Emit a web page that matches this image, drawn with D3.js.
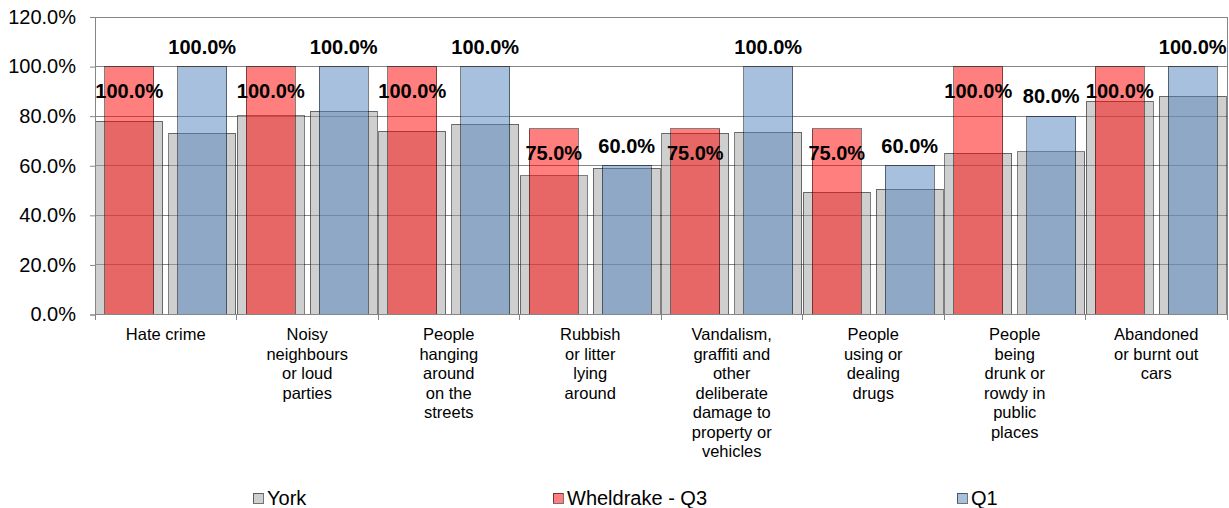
<!DOCTYPE html>
<html>
<head>
<meta charset="utf-8">
<script src="https://cdn.jsdelivr.net/npm/d3@7"></script>
<style>
  body { margin: 0; background: #fff; }
  svg { display: block; font-family: "Liberation Sans", Arial, sans-serif; }
</style>
</head>
<body>
<svg id="chart" width="1229" height="508"></svg>
<script>
// Survey categories and the wrapped lines used for their axis labels
const categories = [
  "Hate crime",
  "Noisy neighbours or loud parties",
  "People hanging around on the streets",
  "Rubbish or litter lying around",
  "Vandalism, graffiti and other deliberate damage to property or vehicles",
  "People using or dealing drugs",
  "People being drunk or rowdy in public places",
  "Abandoned or burnt out cars"
];
const categoryLines = [
  ["Hate crime"],
  ["Noisy", "neighbours", "or loud", "parties"],
  ["People", "hanging", "around", "on the", "streets"],
  ["Rubbish", "or litter", "lying", "around"],
  ["Vandalism,", "graffiti and", "other", "deliberate", "damage to", "property or", "vehicles"],
  ["People", "using or", "dealing", "drugs"],
  ["People", "being", "drunk or", "rowdy in", "public", "places"],
  ["Abandoned", "or burnt out", "cars"]
];

// Quarters shown side by side within each category
const quarters = ["Q3", "Q1"];

// York-wide comparison values, one per quarter slot
const yorkQ3 = [0.780, 0.802, 0.740, 0.560, 0.732, 0.494, 0.651, 0.860];
const yorkQ1 = [0.732, 0.820, 0.767, 0.590, 0.736, 0.505, 0.657, 0.881];

// Wheldrake ward results
const wheldrakeQ3 = [1.00, 1.00, 1.00, 0.75, 0.75, 0.75, 1.00, 1.00];
const wheldrakeQ1 = [1.00, 1.00, 1.00, 0.60, 1.00, 0.60, 0.80, 1.00];

// Value axis ticks
const yTicks = [0, 0.2, 0.4, 0.6, 0.8, 1.0, 1.2];

// Legend entries
const legendLabels = ["York", "Wheldrake - Q3", "Q1"];

const svg = d3.select("#chart");
const W = 1229, H = 508;
const plot = { left: 95, right: 1227, top: 17, bottom: 314.5 };

svg.append("rect").attr("width", W).attr("height", H).attr("fill", "#fff");

const x = d3.scaleBand().domain(categories).range([plot.left, plot.right]).padding(0);
const sub = d3.scalePoint().domain(quarters).range([0, x.bandwidth()]).padding(0.47);
const y = d3.scaleLinear().domain([0, 1.2]).range([plot.bottom, plot.top]);
const pct = d3.format(".1%");

const slotW = x.bandwidth() / 2;
const yorkW = slotW * 0.95;
const wardW = slotW * 0.69;

// Gridlines
svg.append("g")
  .selectAll("line")
  .data(yTicks.slice(1))
  .join("line")
  .attr("x1", plot.left).attr("x2", plot.right)
  .attr("y1", d => y(d)).attr("y2", d => y(d))
  .attr("stroke", "#868686").attr("stroke-width", 1)
  .attr("shape-rendering", "crispEdges");

// Right border of the plot area
svg.append("line")
  .attr("x1", plot.right).attr("x2", plot.right)
  .attr("y1", plot.top).attr("y2", plot.bottom)
  .attr("stroke", "#868686").attr("shape-rendering", "crispEdges");

// Flatten rows for drawing
const rows = categories.map((c, i) => ({
  c,
  york: { Q3: yorkQ3[i], Q1: yorkQ1[i] },
  ward: { Q3: wheldrakeQ3[i], Q1: wheldrakeQ1[i] }
}));
const yorkBars = rows.flatMap(r => quarters.map(q => ({ c: r.c, q, v: r.york[q] })));
const wardBars = rows.flatMap(r => quarters.map(q => ({ c: r.c, q, v: r.ward[q] })));

const wardFill = { Q3: "#ff0000", Q1: "#4f81bd" };

// York bars (wide, behind)
svg.append("g")
  .selectAll("rect")
  .data(yorkBars)
  .join("rect")
  .attr("x", d => x(d.c) + sub(d.q) - yorkW / 2)
  .attr("width", yorkW)
  .attr("y", d => y(d.v))
  .attr("height", d => y(0) - y(d.v))
  .attr("fill", "#9f9f9f").attr("fill-opacity", 0.5)
  .attr("stroke", "#000").attr("stroke-opacity", 0.5).attr("stroke-width", 1)
  .attr("shape-rendering", "crispEdges");

// Wheldrake bars (narrow, in front)
svg.append("g")
  .selectAll("rect")
  .data(wardBars)
  .join("rect")
  .attr("x", d => x(d.c) + sub(d.q) - wardW / 2)
  .attr("width", wardW)
  .attr("y", d => y(d.v))
  .attr("height", d => y(0) - y(d.v))
  .attr("fill", d => wardFill[d.q]).attr("fill-opacity", 0.5)
  .attr("stroke", "#000").attr("stroke-opacity", 0.5).attr("stroke-width", 1)
  .attr("shape-rendering", "crispEdges");

// Value labels: Q3 sits just inside the bar top, Q1 above the bar
svg.append("g")
  .selectAll("text")
  .data(wardBars)
  .join("text")
  .attr("x", d => x(d.c) + sub(d.q))
  .attr("y", d => d.q === "Q3" ? y(d.v) + 31 : y(d.v) - 13)
  .attr("text-anchor", "middle")
  .attr("font-size", 20).attr("font-weight", "bold").attr("fill", "#000")
  .text(d => pct(d.v));

// Y axis
const yAxis = svg.append("g").attr("transform", `translate(${plot.left},0)`)
  .call(d3.axisLeft(y).tickValues(yTicks).tickFormat(pct).tickSize(5).tickPadding(14));
yAxis.select(".domain").attr("stroke", "#868686");
yAxis.selectAll(".tick line").attr("stroke", "#868686");
yAxis.selectAll(".tick text")
  .attr("font-size", 20).attr("fill", "#000")
  .attr("font-family", "'Liberation Sans', Arial, sans-serif");

// X axis line with boundary ticks
svg.append("line")
  .attr("x1", plot.left).attr("x2", plot.right)
  .attr("y1", plot.bottom).attr("y2", plot.bottom)
  .attr("stroke", "#868686").attr("shape-rendering", "crispEdges");
const bounds = categories.map(c => x(c)).concat([plot.right]);
svg.append("g")
  .selectAll("line")
  .data(bounds)
  .join("line")
  .attr("x1", d => d).attr("x2", d => d)
  .attr("y1", plot.bottom).attr("y2", plot.bottom + 5)
  .attr("stroke", "#868686").attr("shape-rendering", "crispEdges");

// Category labels
const catG = svg.append("g")
  .selectAll("text")
  .data(categories)
  .join("text")
  .attr("text-anchor", "middle")
  .attr("font-size", 16.5).attr("fill", "#000")
  .attr("x", d => x(d) + x.bandwidth() / 2)
  .attr("y", 340);
catG.each(function (d, i) {
  d3.select(this).selectAll("tspan")
    .data(categoryLines[i])
    .join("tspan")
    .attr("x", x(d) + x.bandwidth() / 2)
    .attr("dy", (t, j) => j === 0 ? 0 : 19.5)
    .text(t => t);
});

// Legend
const legendX = [253, 553, 957];
const legendFill = [
  { fill: "#9f9f9f" },
  { fill: "#ff0000" },
  { fill: "#4f81bd" }
];
const leg = svg.append("g")
  .selectAll("g")
  .data(legendLabels)
  .join("g")
  .attr("transform", (d, i) => `translate(${legendX[i]},493)`);
leg.append("rect")
  .attr("width", 10).attr("height", 10)
  .attr("fill", (d, i) => legendFill[i].fill).attr("fill-opacity", 0.5)
  .attr("stroke", "#000").attr("stroke-opacity", 0.55)
  .attr("shape-rendering", "crispEdges");
leg.append("text")
  .attr("x", 14).attr("y", 12)
  .attr("font-size", 20).attr("fill", "#000")
  .text(d => d);
</script>
</body>
</html>
